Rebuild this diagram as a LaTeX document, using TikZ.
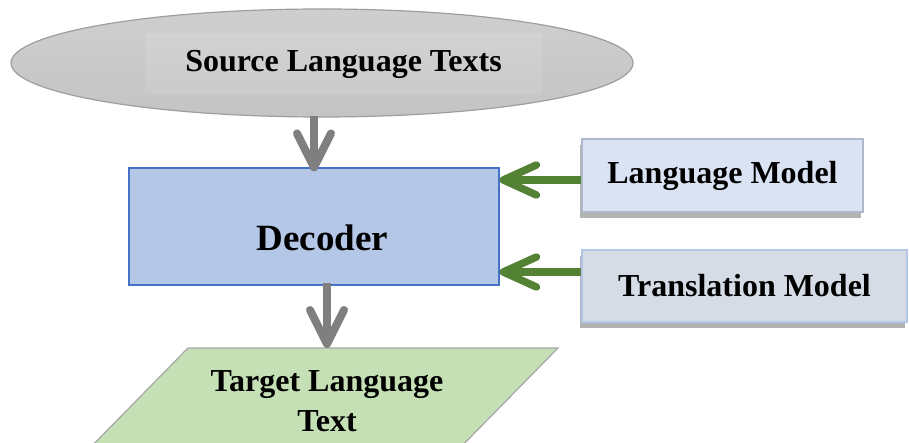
\documentclass[tikz,border=0pt]{standalone}
\usepackage{fontspec}
\setmainfont{Liberation Serif}
\usetikzlibrary{arrows.meta,shadows,shapes.geometric}
\definecolor{ellfill}{HTML}{C8C8C8}
\definecolor{ellline}{HTML}{9E9E9E}
\definecolor{decfill}{HTML}{B4C7E7}
\definecolor{decline}{HTML}{4472C4}
\definecolor{lmfill}{HTML}{DAE3F3}
\definecolor{lmline}{HTML}{ADB9CA}
\definecolor{tmfill}{HTML}{D6DCE5}
\definecolor{tmline}{HTML}{B4C7E7}
\definecolor{tgtfill}{HTML}{C5E0B4}
\definecolor{tgtline}{HTML}{A6A6A6}
\definecolor{arrgray}{HTML}{7F7F7F}
\definecolor{arrgreen}{HTML}{548235}
\tikzset{
  lbl/.style={font=\fontsize{32}{40}\selectfont\bfseries, text=black},
  grayarrow/.style={draw=arrgray, line width=8pt,
    -{Straight Barb[length=34pt,width=34pt,round]}},
  greenarrow/.style={draw=arrgreen, line width=7.5pt,
    -{Straight Barb[length=33pt,width=30pt,round]}},
  modelbox/.style={lbl, rectangle, line width=2pt, inner sep=0pt,
    drop shadow={shadow xshift=-2pt, shadow yshift=-6pt, fill=black!30, opacity=1}},
  tgtshape/.style={fill=tgtfill, draw=tgtline, line width=1.2pt},
}
\begin{document}
\begin{tikzpicture}[x=1pt, y=-1pt]
\useasboundingbox (0,0) rectangle (909,443);
% source ellipse
\node[ellipse, minimum width=622pt, minimum height=108pt, inner sep=0pt,
      top color=ellfill!88!white, bottom color=ellfill!98!black, draw=ellline, line width=1.2pt]
      (src) at (322,63) {};
\node[lbl, rectangle, minimum width=397pt, minimum height=61pt, inner sep=0pt,
      top color=ellfill!82!white, bottom color=ellfill!96!white]
      (srctext) at (343.5,64.5) {Source Language Texts};
% decoder
\node[rectangle, minimum width=370pt, minimum height=117pt, inner sep=0pt,
      fill=decfill, draw=decline, line width=1.2pt] (dec) at (314,226.5) {};
\node[font=\fontsize{37}{44}\selectfont\bfseries] (dectext) at (322.5,238) {Decoder};
% models
\node[modelbox, minimum width=281pt, minimum height=73pt, fill=lmfill, draw=lmline]
      (lm) at (722.5,175.5) {Language Model};
\node[modelbox, minimum width=325pt, minimum height=72pt, fill=tmfill, draw=tmline]
      (tm) at (744.5,286) {Translation Model};
% target parallelogram
\coordinate (tgtTL) at (188,348);
\coordinate (tgtTR) at (558,348);
\coordinate (tgtBR) at (453,455);
\coordinate (tgtBL) at (83,455);
\draw[tgtshape] (tgtTL) -- (tgtTR) -- (tgtBR) -- (tgtBL) -- cycle;
\node[lbl, align=center] (tgttext) at (327,401) {Target Language\\Text};
% arrows
\draw[grayarrow, shorten >=-4pt, shorten <=-2pt] (dec.north |- src.south) -- (dec.north);
\draw[grayarrow, shorten <=-3pt] ([xshift=13pt]dec.south) -- ([xshift=13pt]dec.south |- tgtTL);
\draw[greenarrow] ([yshift=-4.5pt]lm.west) -- ([yshift=-4.5pt]lm.west -| dec.east);
\draw[greenarrow] ([yshift=14pt]tm.west) -- ([yshift=14pt]tm.west -| dec.east);
\end{tikzpicture}
\end{document}
